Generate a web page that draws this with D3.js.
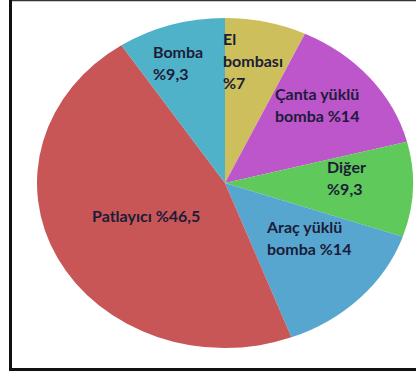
<!DOCTYPE html>
<html>
<head>
<meta charset="utf-8">
<script src="https://cdn.jsdelivr.net/npm/d3@7"></script>
<style>
  body { margin: 0; background: #fff; }
  svg { display: block; }
</style>
</head>
<body>
<div id="chart"></div>
<script>
// slices, clockwise from the top
const labels = [["El", "bombası", "%7"], ["Çanta yüklü", "bomba %14"], ["Diğer", "%9,3"],
                ["Araç yüklü", "bomba %14"], ["Patlayıcı %46,5"], ["Bomba", "%9,3"]];
const values = [7, 14, 9.3, 14, 46.5, 9.3];
const colors = ["#cdc05c", "#bd55cb", "#5fc95b", "#56a6cf", "#c85657", "#4fb2c9"];

const width = 416, height = 375;
const cx = 225, cy = 183, rx = 188, ry = 165;

const svg = d3.select("#chart")
    .append("svg")
    .attr("width", width)
    .attr("height", height);

// frame
svg.append("line").attr("x1", 10).attr("x2", width).attr("y1", 0.5).attr("y2", 0.5)
    .attr("stroke", "#333").attr("stroke-width", 1.5);
svg.append("line").attr("x1", 10.5).attr("x2", 10.5).attr("y1", 0).attr("y2", 371)
    .attr("stroke", "#111").attr("stroke-width", 3);
svg.append("line").attr("x1", 9).attr("x2", width).attr("y1", 369.5).attr("y2", 369.5)
    .attr("stroke", "#111").attr("stroke-width", 3);

const pie = d3.pie().sort(null).value((d) => d)(values);
const arc = d3.arc().innerRadius(0).outerRadius(100);

// pie is drawn on a circle then squashed into an ellipse
svg.append("g")
    .attr("transform", `translate(${cx},${cy}) scale(${rx / 100},${ry / 100})`)
    .selectAll("path")
    .data(pie)
    .enter()
    .append("path")
    .attr("d", arc)
    .attr("fill", (d, i) => colors[i]);

// label anchors (left edge, first baseline)
const labelPos = [[223, 45], [275, 100], [327, 173], [267, 233], [92, 222], [153, 58]];

svg.selectAll("text.label")
    .data(labels)
    .enter()
    .append("text")
    .attr("class", "label")
    .attr("x", (d, i) => labelPos[i][0])
    .attr("y", (d, i) => labelPos[i][1])
    .style("font-family", "Lato, 'Open Sans', sans-serif")
    .style("font-weight", "bold")
    .style("font-size", "16px")
    .style("fill", "#1c1c38")
    .each(function (d, i) {
        const t = d3.select(this);
        d.forEach((line, k) => {
            t.append("tspan")
                .attr("x", labelPos[i][0])
                .attr("dy", k === 0 ? 0 : 22)
                .text(line);
        });
    });
</script>
</body>
</html>
